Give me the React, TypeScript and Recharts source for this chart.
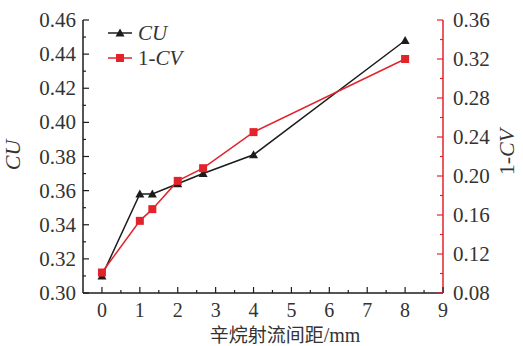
import React from 'react';
import { LineChart, Line, XAxis, YAxis } from 'recharts';

const spacing = [0, 1, 1.33, 2, 2.67, 4, 8];
const cuValues = [0.31, 0.358, 0.358, 0.364, 0.37, 0.381, 0.448];
const cvValues = [0.101, 0.154, 0.166, 0.195, 0.208, 0.245, 0.32];
const xTicks = [0, 0.5, 1, 1.5, 2, 2.5, 3, 3.5, 4, 4.5, 5, 5.5, 6, 6.5, 7, 7.5, 8, 8.5, 9];
const leftTicks = [0.3, 0.31, 0.32, 0.33, 0.34, 0.35, 0.36, 0.37, 0.38, 0.39, 0.4, 0.41, 0.42, 0.43, 0.44, 0.45, 0.46];
const rightTicks = [0.08, 0.1, 0.12, 0.14, 0.16, 0.18, 0.2, 0.22, 0.24, 0.26, 0.28, 0.3, 0.32, 0.34, 0.36];

const data = spacing.map((s, i) => ({ x: s, cu: cuValues[i], cv: cvValues[i] }));

const BLACK = '#1c1c1c';
const RED = '#e3232c';
const FONT = '"Liberation Serif", "Times New Roman", Times, serif';
const serif = { fontFamily: FONT };

const XTick = (props: any) => {
  const { x, y, payload } = props;
  const v = payload.value;
  const major = Math.abs(v - Math.round(v)) < 1e-6;
  return (
    <g>
      <line x1={x} x2={x} y1={y} y2={y - (major ? 6 : 3)} stroke={BLACK} strokeWidth={1.2} />
      {major && (
        <text x={x} y={y + 24} textAnchor="middle" style={serif} fontSize={20} fill="#333">
          {v}
        </text>
      )}
    </g>
  );
};

const LeftTick = (props: any) => {
  const { x, y, payload } = props;
  const v = payload.value;
  const major = Math.round(v * 100) % 2 === 0;
  return (
    <g>
      <line x1={x} x2={x + (major ? 6 : 3)} y1={y} y2={y} stroke={BLACK} strokeWidth={1.2} />
      {major && (
        <text x={x - 7} y={y + 7} textAnchor="end" style={serif} fontSize={21} fill="#333">
          {v.toFixed(2)}
        </text>
      )}
    </g>
  );
};

const RightTick = (props: any) => {
  const { x, y, payload } = props;
  const v = payload.value;
  const major = Math.round(v * 100) % 4 === 0;
  return (
    <g>
      <line x1={x} x2={x - (major ? 6 : 3)} y1={y} y2={y} stroke={RED} strokeWidth={1.2} />
      {major && (
        <text x={x + 10} y={y + 7} textAnchor="start" style={serif} fontSize={21} fill="#333">
          {v.toFixed(2)}
        </text>
      )}
    </g>
  );
};

const Triangle = (props: any) => {
  const { cx, cy } = props;
  if (cx == null || cy == null) return null;
  return <polygon points={`${cx},${cy - 4.5} ${cx - 4.5},${cy + 3.5} ${cx + 4.5},${cy + 3.5}`} fill={BLACK} />;
};

const Square = (props: any) => {
  const { cx, cy } = props;
  if (cx == null || cy == null) return null;
  return <rect x={cx - 4} y={cy - 4} width={8} height={8} fill={RED} />;
};

const LegendBox = () => (
  <svg width={120} height={60} style={{ position: 'absolute', left: 105, top: 20, display: 'block' }}>
    <line x1={3} x2={27} y1={13} y2={13} stroke={BLACK} strokeWidth={1.5} />
    <polygon points="15,8.5 10.5,16.5 19.5,16.5" fill={BLACK} />
    <text x={33} y={20} style={serif} fontStyle="italic" fontSize={21} fill="#333">CU</text>
    <line x1={3} x2={27} y1={38} y2={38} stroke={RED} strokeWidth={1.5} />
    <rect x={11} y={34} width={8} height={8} fill={RED} />
    <text x={33} y={45} style={serif} fontSize={21} fill="#333">
      1-<tspan fontStyle="italic">CV</tspan>
    </text>
  </svg>
);

export default function App() {
  return (
    <div style={{ position: 'absolute', left: 0, top: 0, width: 523, height: 346, background: '#fff' }}>
      <LineChart width={523} height={346} data={data} margin={{ top: 20, right: 0, bottom: 0, left: 0 }}>
        <XAxis
          dataKey="x"
          type="number"
          domain={[-0.5, 9]}
          ticks={xTicks}
          interval={0}
          height={53}
          tickSize={0}
          tickMargin={0}
          tickLine={false}
          tick={<XTick />}
          axisLine={{ stroke: BLACK, strokeWidth: 1.5 }}
          allowDataOverflow
          label={() => (
            <text x={285} y={342} textAnchor="middle" style={serif} fontSize={20} fill="#333">
              <tspan style={{ fontFamily: '"Noto Sans CJK SC", sans-serif' }} fontSize={19}>辛烷射流间距</tspan>/mm
            </text>
          )}
        />
        <YAxis
          yAxisId="left"
          orientation="left"
          domain={[0.3, 0.46]}
          ticks={leftTicks}
          interval={0}
          width={83}
          tickSize={0}
          tickMargin={0}
          tickLine={false}
          tick={<LeftTick />}
          axisLine={{ stroke: BLACK, strokeWidth: 1.5 }}
          allowDataOverflow
          label={() => (
            <text x={20} y={155} textAnchor="middle" style={serif} fontStyle="italic" fontSize={22} fill="#333" transform="rotate(-90 20 155)">
              CU
            </text>
          )}
        />
        <YAxis
          yAxisId="right"
          orientation="right"
          domain={[0.08, 0.36]}
          ticks={rightTicks}
          interval={0}
          width={80}
          tickSize={0}
          tickMargin={0}
          tickLine={false}
          tick={<RightTick />}
          axisLine={{ stroke: RED, strokeWidth: 1.5 }}
          allowDataOverflow
          label={() => (
            <text x={514} y={152} textAnchor="middle" style={serif} fontSize={22} fill="#333" transform="rotate(-90 514 152)">
              1-<tspan fontStyle="italic">CV</tspan>
            </text>
          )}
        />
        <Line yAxisId="left" dataKey="cu" stroke={BLACK} strokeWidth={1.5} dot={<Triangle />} activeDot={false} isAnimationActive={false} />
        <Line yAxisId="right" dataKey="cv" stroke={RED} strokeWidth={1.5} dot={<Square />} activeDot={false} isAnimationActive={false} />
      </LineChart>
      <LegendBox />
    </div>
  );
}
